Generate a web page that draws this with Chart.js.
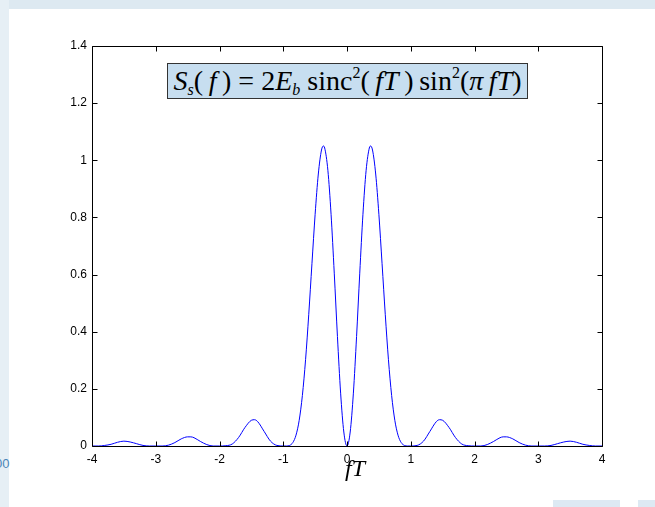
<!DOCTYPE html>
<html>
<head>
<meta charset="utf-8">
<script src="https://cdn.jsdelivr.net/npm/chart.js@4.4.0/dist/chart.umd.min.js"></script>
<style>
  html, body { margin: 0; padding: 0; background: #ffffff; }
  #wrap { position: relative; width: 655px; height: 507px; overflow: hidden; background: #ffffff; }
  #topband { position: absolute; left: 0; top: 0; width: 655px; height: 9px; background: #dde9f1; }
  #leftband { position: absolute; left: 0; top: 0; width: 9px; height: 507px; background: #e6eff5; }
  #br1 { position: absolute; left: 553px; top: 500px; width: 67px; height: 7px; background: #dde9f3; }
  #br2 { position: absolute; left: 638px; top: 500px; width: 17px; height: 7px; background: #dde9f3; }
  #frag { position: absolute; left: -5px; top: 456px; font: 13px "Liberation Sans", Arial, sans-serif; color: #4a86b8; }
  canvas { position: absolute; left: 0; top: 0; }
  #formula { position: absolute; left: 167px; top: 63px; width: 359px; height: 34px; border: 1px solid #333; background: #c7def0;
    font-family: "Liberation Serif", "Times New Roman", serif; font-size: 28px; line-height: 34px; text-align: center; color: #000; white-space: nowrap; letter-spacing: 0px; }
  #formula sub { font-size: 16px; vertical-align: -5px; line-height: 0; }
  #formula sup { font-size: 16px; vertical-align: 12px; line-height: 0; }
  #xlabel { position: absolute; left: 330px; width: 50px; top: 454px; text-align: center;
    font-family: "Liberation Serif", "Times New Roman", serif; font-style: italic; font-size: 24px; line-height: 28px; color: #000; }
</style>
</head>
<body>
<div id="wrap">
  <div id="topband"></div>
  <div id="leftband"></div>
  <div id="br1"></div>
  <div id="br2"></div>
  <div id="frag">00</div>
  <canvas id="c" width="655" height="507"></canvas>
  <div id="formula"><i>S</i><sub><i>s</i></sub>(&thinsp;<i>f</i>&thinsp;) = 2<i>E</i><sub><i>b</i></sub> sinc<sup>2</sup>(&thinsp;<i>fT</i>&thinsp;)&thinsp;sin<sup>2</sup>(<i>π&thinsp;fT</i>)</div>
  <div id="xlabel">fT</div>
</div>
<script>
const fT = [
  -4.0, -3.9, -3.8, -3.7, -3.6, -3.5, -3.4, -3.3, -3.2, -3.1,
  -3.0, -2.9, -2.8, -2.7, -2.6, -2.5, -2.45, -2.4, -2.3, -2.2, -2.1,
  -2.0, -1.9, -1.8, -1.7, -1.6, -1.5, -1.45, -1.4, -1.3, -1.2, -1.1,
  -1.0, -0.95, -0.9, -0.85, -0.8, -0.75, -0.7, -0.65, -0.6, -0.55, -0.5, -0.45, -0.4, -0.37, -0.35, -0.3, -0.25, -0.2, -0.15, -0.1, -0.05,
  0.0,
  0.05, 0.1, 0.15, 0.2, 0.25, 0.3, 0.35, 0.37, 0.4, 0.45, 0.5, 0.55, 0.6, 0.65, 0.7, 0.75, 0.8, 0.85, 0.9, 0.95, 1.0,
  1.1, 1.2, 1.3, 1.4, 1.45, 1.5, 1.6, 1.7, 1.8, 1.9, 2.0,
  2.1, 2.2, 2.3, 2.4, 2.45, 2.5, 2.6, 2.7, 2.8, 2.9, 3.0,
  3.1, 3.2, 3.3, 3.4, 3.5, 3.6, 3.7, 3.8, 3.9, 4.0
];
const Ss = [
  0.000, 0.000, 0.002, 0.006, 0.013, 0.017, 0.014, 0.008, 0.002, 0.000,
  0.000, 0.000, 0.003, 0.012, 0.025, 0.032, 0.032, 0.029, 0.016, 0.005, 0.000,
  0.000, 0.001, 0.007, 0.030, 0.065, 0.090, 0.092, 0.085, 0.051, 0.017, 0.002,
  0.000, 0.000, 0.002, 0.012, 0.038, 0.090, 0.177, 0.302, 0.461, 0.638, 0.811, 0.952, 1.036, 1.050, 1.043, 0.965, 0.811, 0.605, 0.383, 0.185, 0.049,
  0.000,
  0.049, 0.185, 0.383, 0.605, 0.811, 0.965, 1.043, 1.050, 1.036, 0.952, 0.811, 0.638, 0.461, 0.302, 0.177, 0.090, 0.038, 0.012, 0.002, 0.000, 0.000,
  0.002, 0.017, 0.051, 0.085, 0.092, 0.090, 0.065, 0.030, 0.007, 0.001, 0.000,
  0.000, 0.005, 0.016, 0.029, 0.032, 0.032, 0.025, 0.012, 0.003, 0.000, 0.000,
  0.000, 0.002, 0.008, 0.014, 0.017, 0.013, 0.006, 0.002, 0.000, 0.000
];
const xTickLabels = ['-4', '-3', '-2', '-1', '0', '1', '2', '3', '4'];
const yTickLabels = ['0', '0.2', '0.4', '0.6', '0.8', '1', '1.2', '1.4'];
const xTickValues = [-4, -3, -2, -1, 0, 1, 2, 3, 4];
const yTickValues = [0, 0.2, 0.4, 0.6, 0.8, 1.0, 1.2, 1.4];

const points = fT.map((x, i) => ({ x: x, y: Ss[i] }));

const boxPlugin = {
  id: 'matlabBox',
  afterDatasetsDraw(chart) {
    const { ctx, chartArea: a, scales } = chart;
    ctx.save();
    ctx.strokeStyle = '#000';
    ctx.lineWidth = 1;
    const L = Math.round(a.left) + 0.5, R = Math.round(a.right) + 0.5;
    const T = Math.round(a.top) + 0.5, B = Math.round(a.bottom) + 0.5;
    ctx.beginPath();
    ctx.rect(L, T, R - L, B - T);
    ctx.stroke();
    const tl = 5;
    ctx.beginPath();
    xTickValues.forEach(v => {
      const px = Math.round(scales.x.getPixelForValue(v)) + 0.5;
      ctx.moveTo(px, B); ctx.lineTo(px, B - tl);
      ctx.moveTo(px, T); ctx.lineTo(px, T + tl);
    });
    yTickValues.forEach(v => {
      const py = Math.round(scales.y.getPixelForValue(v)) + 0.5;
      ctx.moveTo(L, py); ctx.lineTo(L + tl, py);
      ctx.moveTo(R, py); ctx.lineTo(R - tl, py);
    });
    ctx.stroke();
    ctx.restore();
  }
};

new Chart(document.getElementById('c'), {
  type: 'line',
  data: {
    datasets: [{
      data: points,
      borderColor: '#0000ff',
      borderWidth: 1,
      pointRadius: 0,
      fill: false,
      cubicInterpolationMode: 'monotone'
    }]
  },
  options: {
    responsive: false,
    animation: false,
    devicePixelRatio: 1,
    layout: { padding: { top: 46, right: 53, left: 0, bottom: 0 } },
    plugins: { legend: { display: false }, tooltip: { enabled: false } },
    scales: {
      x: {
        type: 'linear', min: -4, max: 4,
        afterFit(s) { s.height = 61; },
        afterBuildTicks(s) { s.ticks = xTickValues.map(v => ({ value: v })); },
        grid: { display: false, drawTicks: false },
        border: { display: false },
        ticks: {
          padding: 6, color: '#000', maxRotation: 0,
          font: { family: '"Liberation Sans", Arial, sans-serif', size: 12 },
          callback: (v, i) => xTickLabels[i]
        }
      },
      y: {
        type: 'linear', min: 0, max: 1.4,
        afterFit(s) { s.width = 92; },
        afterBuildTicks(s) { s.ticks = yTickValues.map(v => ({ value: v })); },
        grid: { display: false, drawTicks: false },
        border: { display: false },
        ticks: {
          padding: 5, color: '#000',
          font: { family: '"Liberation Sans", Arial, sans-serif', size: 12 },
          callback: (v, i) => yTickLabels[i]
        }
      }
    }
  },
  plugins: [boxPlugin]
});
</script>
</body>
</html>
